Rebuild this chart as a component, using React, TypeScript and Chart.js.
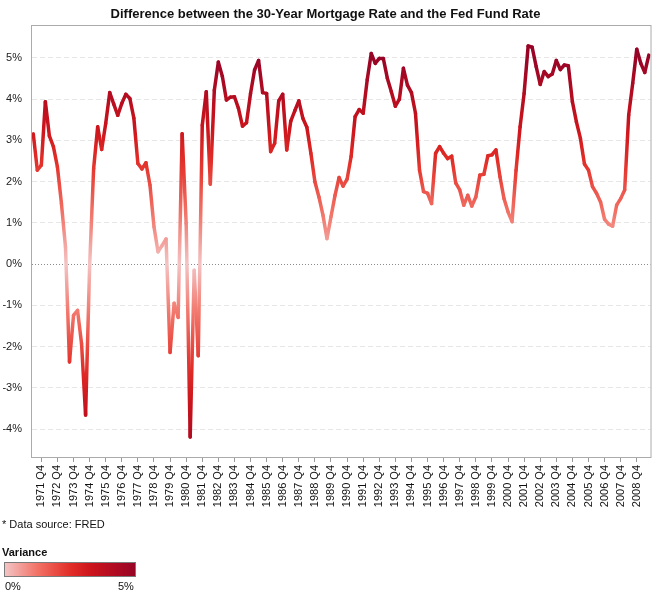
import React, { useEffect, useRef } from "react";
import { Chart, registerables } from "chart.js";

Chart.register(...registerables);

// Quarterly spread (30-year mortgage rate minus fed funds rate), %, starting 1971 Q2
const SPREAD: number[] = [
  3.16, 2.28, 2.40, 3.94, 3.11, 2.85, 2.36, 1.47, 0.42, -2.37,
  -1.24, -1.12, -1.93, -3.66, -0.06, 2.32, 3.33, 2.78, 3.41, 4.16,
  3.88, 3.61, 3.90, 4.12, 4.02, 3.54, 2.44, 2.31, 2.46, 1.92,
  0.91, 0.30, 0.45, 0.61, -2.14, -0.95, -1.29, 3.16, 0.99, -4.19,
  -0.15, -2.22, 3.37, 4.18, 1.94, 4.22, 4.90, 4.55, 3.98, 4.05,
  4.06, 3.78, 3.35, 3.43, 4.14, 4.71, 4.94, 4.16, 4.14, 2.73,
  2.93, 3.96, 4.12, 2.77, 3.47, 3.72, 3.96, 3.54, 3.32, 2.69,
  2.00, 1.63, 1.19, 0.62, 1.15, 1.67, 2.10, 1.89, 2.06, 2.61,
  3.58, 3.75, 3.66, 4.47, 5.11, 4.87, 4.99, 4.99, 4.51, 4.18,
  3.83, 4.00, 4.75, 4.34, 4.16, 3.66, 2.28, 1.76, 1.72, 1.47,
  2.69, 2.85, 2.69, 2.56, 2.62, 1.97, 1.80, 1.43, 1.67, 1.41,
  1.63, 2.16, 2.18, 2.63, 2.65, 2.77, 2.12, 1.59, 1.27, 1.03,
  2.28, 3.33, 4.14, 5.29, 5.26, 4.79, 4.36, 4.67, 4.55, 4.61,
  4.94, 4.72, 4.83, 4.81, 3.94, 3.45, 3.05, 2.43, 2.28, 1.88,
  1.72, 1.51, 1.09, 0.97, 0.92, 1.43, 1.59, 1.80, 3.62, 4.39,
  5.21, 4.87, 4.65, 5.07,
];

const START_YEAR = 1971;
const START_QUARTER = 2;

// Category labels, one per quarter
const QUARTER_LABELS: string[] = (() => {
  const out: string[] = [];
  let y = START_YEAR;
  let q = START_QUARTER;
  for (let i = 0; i < SPREAD.length; i++) {
    out.push(`${y} Q${q}`);
    q += 1;
    if (q > 4) {
      q = 1;
      y += 1;
    }
  }
  return out;
})();

// Only the Q4 quarters carry a tick label
const TICK_INDICES: number[] = QUARTER_LABELS.map((l, i) => (l.endsWith("Q4") ? i : -1)).filter((i) => i >= 0);

const Y_TICKS: number[] = [-4, -3, -2, -1, 0, 1, 2, 3, 4, 5];

const TITLE = "Difference between the 30-Year Mortgage Rate and the Fed Fund Rate";

// colour ramp for |value| 0..5
const RAMP: [number, number[]][] = [
  [0, [243, 196, 196]],
  [1.25, [242, 114, 102]],
  [2.5, [226, 46, 40]],
  [3.3, [204, 20, 28]],
  [5, [152, 4, 38]],
];

function colorFor(v: number): string {
  const a = Math.min(5, Math.abs(v));
  for (let k = 0; k < RAMP.length - 1; k++) {
    const [a0, c0] = RAMP[k];
    const [a1, c1] = RAMP[k + 1];
    if (a <= a1) {
      const t = (a - a0) / (a1 - a0);
      const c = c0.map((x, j) => Math.round(x + (c1[j] - x) * t));
      return `rgb(${c[0]},${c[1]},${c[2]})`;
    }
  }
  const c = RAMP[RAMP.length - 1][1];
  return `rgb(${c[0]},${c[1]},${c[2]})`;
}

const FONT = "'Liberation Sans', Arial, Helvetica, sans-serif";

const framePlugin = {
  id: "frame",
  beforeDatasetsDraw(chart: any) {
    const { ctx, chartArea, scales } = chart;
    const { left, right, top, bottom } = chartArea;
    ctx.save();
    const y0 = Math.round(scales.y.getPixelForValue(0)) + 0.5;
    ctx.strokeStyle = "#8c8c8c";
    ctx.lineWidth = 1;
    ctx.setLineDash([1, 2]);
    ctx.beginPath();
    ctx.moveTo(left, y0);
    ctx.lineTo(right, y0);
    ctx.stroke();
    ctx.setLineDash([]);
    ctx.strokeStyle = "#ababab";
    ctx.strokeRect(left - 0.5, top + 0.5, right - left + 1, bottom - top - 1);
    ctx.restore();
  },
};

export default function App() {
  const ref = useRef<HTMLCanvasElement | null>(null);

  useEffect(() => {
    document.body.style.margin = "0";
    Chart.defaults.font.family = FONT;
    const canvas = ref.current;
    if (!canvas) return;
    const chart = new Chart(canvas, {
      type: "line",
      data: {
        datasets: [
          {
            data: SPREAD.map((v, i) => ({ x: i, y: v })),
            borderColor: "#c81e28",
            borderWidth: 3.5,
            borderCapStyle: "round",
            borderJoinStyle: "round",
            pointRadius: 0,
            tension: 0,
            segment: {
              borderColor: (ctx: any) => {
                const { p0, p1 } = ctx;
                const v0 = SPREAD[ctx.p0DataIndex];
                const v1 = SPREAD[ctx.p1DataIndex];
                const g = ctx.chart.ctx.createLinearGradient(p0.x, p0.y, p1.x, p1.y);
                const ts = [0, 0.2, 0.4, 0.6, 0.8, 1];
                if (v0 * v1 < 0) ts.push(v0 / (v0 - v1));
                ts.sort((a, b) => a - b);
                ts.forEach((t) => g.addColorStop(t, colorFor(v0 + (v1 - v0) * t)));
                return g;
              },
            },
          } as any,
        ],
      },
      options: {
        responsive: false,
        animation: false,
        events: [],
        layout: { padding: { left: 0, right: 2, top: 0, bottom: 76 } },
        plugins: {
          legend: { display: false },
          tooltip: { enabled: false },
          title: {
            display: true,
            text: TITLE,
            color: "#111",
            font: { size: 13, weight: "bold", family: FONT },
            padding: { top: 7, bottom: 2.4 },
          },
        },
        scales: {
          x: {
            type: "linear",
            min: -0.32,
            max: SPREAD.length - 1 + 0.42,
            afterBuildTicks: (scale: any) => {
              scale.ticks = TICK_INDICES.map((v) => ({ value: v }));
            },
            afterFit: (scale: any) => {
              scale.height = 60;
            },
            ticks: {
              autoSkip: false,
              minRotation: 90,
              maxRotation: 90,
              padding: 3,
              color: "#111",
              font: { size: 11, family: FONT },
              callback: (v: any) => QUARTER_LABELS[v as number] ?? "",
            },
            grid: {
              display: true,
              drawOnChartArea: false,
              drawTicks: true,
              tickLength: 4,
              tickColor: "#9a9a9a",
              color: "#9a9a9a",
            },
            border: { display: false },
          },
          y: {
            min: -4.7,
            max: 5.8,
            afterBuildTicks: (scale: any) => {
              scale.ticks = Y_TICKS.map((v) => ({ value: v }));
            },
            afterFit: (scale: any) => {
              scale.width = 32;
            },
            ticks: {
              padding: 10,
              color: "#222",
              font: { size: 11, family: FONT },
              callback: (v: any) => `${v}%`,
            },
            grid: {
              drawTicks: false,
              color: (ctx: any) => (ctx.tick && ctx.tick.value === 0 ? "rgba(0,0,0,0)" : "#e6e6e6"),
            },
            border: { display: false, dash: [5, 3] },
          },
        },
      },
      plugins: [framePlugin],
    } as any);
    return () => chart.destroy();
  }, []);

  const textStyle: React.CSSProperties = {
    position: "absolute",
    fontFamily: FONT,
    fontSize: 11,
    lineHeight: "13px",
    color: "#111",
    whiteSpace: "nowrap",
  };

  return (
    <div style={{ position: "relative", width: 653, height: 594 }}>
      <canvas ref={ref} width={653} height={594} style={{ display: "block" }} />
      <div style={{ ...textStyle, left: 2, top: 518 }}>* Data source: FRED</div>
      <div style={{ ...textStyle, left: 2, top: 546, fontWeight: "bold" }}>Variance</div>
      <div
        style={{
          position: "absolute",
          left: 4,
          top: 562,
          width: 132,
          height: 15,
          boxSizing: "border-box",
          border: "1px solid #7a7a7a",
          background:
            "linear-gradient(to right, rgb(243,196,196) 0%, rgb(242,114,102) 25%, rgb(226,46,40) 50%, rgb(204,20,28) 66%, rgb(152,4,38) 100%)",
        }}
      />
      <div style={{ ...textStyle, left: 5, top: 580 }}>0%</div>
      <div style={{ ...textStyle, left: 118, top: 580 }}>5%</div>
    </div>
  );
}
